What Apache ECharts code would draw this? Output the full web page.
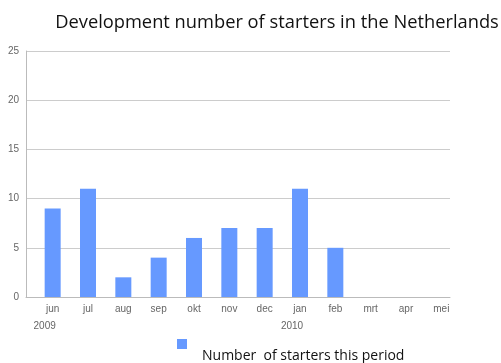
<!DOCTYPE html>
<html><head><meta charset="utf-8">
<script src="https://cdn.jsdelivr.net/npm/echarts@6/dist/echarts.min.js"></script>
<style>html,body{margin:0;padding:0;background:#fff}#c{width:501px;height:363px}</style>
</head><body><div id="c"></div>
<script>
const title = 'Development number of starters in the Netherlands';
const seriesName = 'Number  of starters this period';
const months = ['jun','jul','aug','sep','okt','nov','dec','jan','feb','mrt','apr','mei'];
const years = ['2009','','','','','','','2010','','','',''];
const starters = [9, 11, 2, 4, 6, 7, 7, 11, 5, null, null, null];
const yTicks = [0, 5, 10, 15, 20, 25];

const chart = echarts.init(document.getElementById('c'));
const axisFont = 'Liberation Sans, Arial, sans-serif';
chart.setOption({
  animation: false,
  title: {
    text: title, left: 272, textAlign: 'center', top: 9,
    textStyle: { fontFamily: 'Open Sans, sans-serif', fontWeight: 'normal', fontSize: 18.3, color: '#111' }
  },
  legend: {
    left: 172, top: 334, itemWidth: 10, itemHeight: 10, itemGap: 0,
    icon: 'rect',
    formatter: n => '{a|' + n + '}',
    textStyle: { rich: { a: { fontFamily: 'Open Sans, sans-serif', fontSize: 14, color: '#111', padding: [24, 0, 0, 10] } } }
  },
  grid: [
    { left: 35, width: 424, top: 51, height: 246 },
    { left: 26, width: 424, top: 51, height: 246 }
  ],
  xAxis: [
    { type: 'category', gridIndex: 0, data: months, axisLine: { show: false }, axisTick: { show: false },
      axisLabel: { margin: 2, interval: 0,
        formatter: (v, i) => '{m|' + v + '}\n{y|' + (years[i] || ' ') + '}',
        rich: { m: { fontFamily: axisFont, fontSize: 10, color: '#666', lineHeight: 20 },
                y: { fontFamily: axisFont, fontSize: 10, color: '#666', lineHeight: 14, padding: [0, 16, 0, 0] } } } },
    { type: 'value', gridIndex: 1, min: 0, max: 1, axisLine: { show: true, lineStyle: { color: '#bbb' } },
      axisTick: { show: false }, axisLabel: { show: false }, splitLine: { show: false } }
  ],
  yAxis: [
    { type: 'value', gridIndex: 0, min: yTicks[0], max: yTicks[yTicks.length - 1], interval: 5, show: false },
    { type: 'value', gridIndex: 1, min: yTicks[0], max: yTicks[yTicks.length - 1], interval: 5,
      axisLine: { show: true, lineStyle: { color: '#bbb' } }, axisTick: { show: false },
      axisLabel: { fontFamily: axisFont, fontSize: 10, color: '#666', margin: 7 },
      splitLine: { lineStyle: { color: '#ccc' } } }
  ],
  series: [{
    name: seriesName, type: 'bar', xAxisIndex: 0, yAxisIndex: 0, data: starters,
    barWidth: 16, itemStyle: { color: '#6699FF' }
  }]
});
</script></body></html>
